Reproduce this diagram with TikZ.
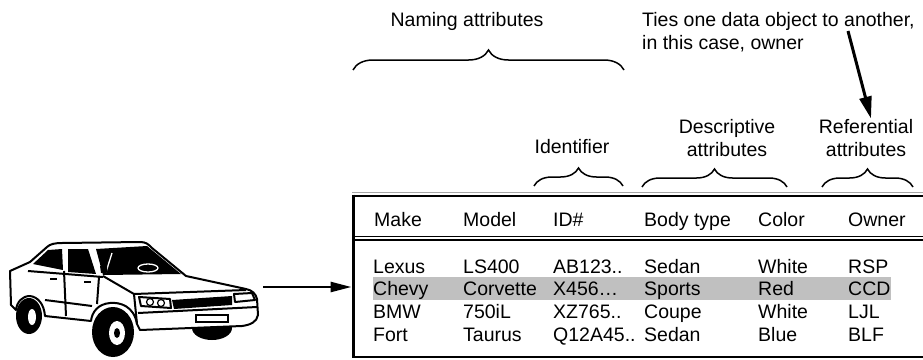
\documentclass[tikz,border=0pt]{standalone}
\usepackage{fontspec}
\setmainfont{Liberation Sans}
\usepackage{tikz}
\usetikzlibrary{arrows.meta,positioning,decorations.pathreplacing}
\definecolor{rowgray}{RGB}{192,192,192}

\begin{document}
\begin{tikzpicture}[
  x=1pt, y=-1pt,
  font=\fontsize{19.5}{23}\selectfont,
  cell/.style={anchor=base west, inner sep=0pt},
  lbl/.style={align=center, inner sep=0pt},
  brc/.style={decorate, decoration={brace, amplitude=#1}, line width=1.5pt},
  rule/.style={line width=2.6pt},
  arr/.style={-{Triangle[length=21pt, width=10pt]}, line width=2.6pt},
  tiearr/.style={-{Triangle[length=22pt, width=12pt]}, line width=3pt},
  car/.style={line width=2pt, line join=round},
  glass/.style={fill=black, line join=round}
]
\useasboundingbox (0,0) rectangle (923,359);

\fill (212,328) ellipse [x radius=20pt, y radius=12pt];
\fill (29,316) ellipse [x radius=13pt, y radius=18pt];
\fill (113,332) ellipse [x radius=21pt, y radius=25pt];
\draw[car, fill=white] (10,271) -- (30,262) -- (47,247) .. controls (50,244) and (55,243) .. (62,243)
  -- (140,242) .. controls (146,242) and (148,244) .. (152,248) -- (186,276) -- (246,289)
  .. controls (252,290) and (256,294) .. (257,299) -- (258,315)
  .. controls (257,322) and (250,325) .. (242,326) -- (140,330) -- (137,324)
  .. controls (134,306) and (120,302) .. (110,303) .. controls (98,304) and (92,312) .. (91,321)
  -- (45,316) .. controls (44,304) and (38,297) .. (30,296) .. controls (22,296) and (17,302) .. (16,310)
  -- (11,305) -- cycle;
\fill[white] (117,333) ellipse [x radius=8pt, y radius=12pt];
\fill (117,333) ellipse [x radius=3pt, y radius=5pt];
\fill[white] (32,317) ellipse [x radius=4pt, y radius=8pt];
\fill[glass] (33,264) -- (48,250) -- (62,249) -- (63,270) -- cycle;
\fill[glass] (68,249) -- (88,249) -- (96,274) -- (68,272) -- cycle;
\fill[glass] (96,249) -- (147,246) -- (181,274) -- (103,275) -- cycle;
\draw[white, line width=1.3pt] (112,253) -- (106,272) (148,268) ellipse [x radius=10pt, y radius=4pt];
\draw[car] (28,271) -- (103,277);
\draw[car] (64,271) -- (66,316);
\draw[car] (99,277) -- (97,304);
\draw[car] (45,300) -- (92,306);
\draw[car] (103,276) -- (134,294) -- (246,290);
\draw[car] (134,294) -- (137,324);
\draw[car, fill=white] (139,297) -- (170,299) -- (171,308) -- (141,306) -- cycle;
\draw[line width=1.2pt] (150,302) circle (3.5pt) (161,303) circle (3.5pt);
\fill (172,300) -- (232,296) -- (232,305) -- (174,309) -- cycle;
\draw[car, fill=white] (234,294) -- (252,293) -- (255,300) -- (235,302) -- cycle;
\draw[car] (138,313) -- (257,307);
\draw[line width=1.2pt, fill=white] (196,315) rectangle (228,322);
\fill (50,278) rectangle (57,280);
\fill (84,281) rectangle (91,283);
\fill (100,266) -- (107,265) -- (107,272) -- (101,273) -- cycle;

\fill[rowgray] (373,277) rectangle (891,300);
\draw[line width=0.6pt, black!35] (352,192.5) -- (923,192.5);
\draw[rule] (352,196) -- (923,196);
\draw[line width=0.8pt] (352,236) -- (923,236);
\draw[rule] (352,240) -- (923,240);
\draw[rule] (352,357) -- (923,357);
\draw[rule] (353.5,194.7) -- (353.5,358.3);

\node[cell] (make) at (374,226) {Make};
\node[cell] (model) at (463,226) {Model};
\node[cell] (idno) at (553,226) {ID\#};
\node[cell] (body) at (644,226) {Body type};
\node[cell] (color) at (758,226) {Color};
\node[cell] (owner) at (848,226) {Owner};

\node[cell] (lexus) at (373,273) {Lexus};
\node[cell] (ls400) at (463,273) {LS400};
\node[cell] (ab123) at (553,273) {AB123..};
\node[cell] (sedan1) at (644,273) {Sedan};
\node[cell] (white1) at (758,273) {White};
\node[cell] (rsp) at (848,273) {RSP};

\node[cell] (chevy) at (373,295.7) {Chevy};
\node[cell] (corvette) at (463,295.7) {Corvette};
\node[cell] (x456) at (553,295.7) {X456…};
\node[cell] (sports) at (644,295.7) {Sports};
\node[cell] (red) at (758,295.7) {Red};
\node[cell] (ccd) at (848,295.7) {CCD};

\node[cell] (bmw) at (373,318.4) {BMW};
\node[cell] (il750) at (463,318.4) {750iL};
\node[cell] (xz765) at (553,318.4) {XZ765..};
\node[cell] (coupe) at (644,318.4) {Coupe};
\node[cell] (white2) at (758,318.4) {White};
\node[cell] (ljl) at (848,318.4) {LJL};

\node[cell] (fort) at (373,341.1) {Fort};
\node[cell] (taurus) at (463,341.1) {Taurus};
\node[cell] (q12a45) at (553,341.1) {Q12A45..};
\node[cell] (sedan2) at (644,341.1) {Sedan};
\node[cell] (blue) at (758,341.1) {Blue};
\node[cell] (blf) at (848,341.1) {BLF};

\draw[brc=20pt] (353,70) -- (624,70);
\draw[brc=18pt] (534,186) -- (623,186);
\draw[brc=18pt] (642,187) -- (787,187);
\draw[brc=18pt] (822,187) -- (913,187);

\node[anchor=base, inner sep=0pt] (naming) at (467,26) {Naming attributes};
\node[anchor=base, inner sep=0pt] (ident) at (572,153) {Identifier};
\node[lbl] (descr) at (727,138.4) {Descriptive\\attributes};
\node[lbl] (refer) at (866,138.4) {Referential\\attributes};
\node[anchor=north west, align=left, inner sep=0pt] (ties) at (642,11.8) {Ties one data object to another,\\in this case, owner};

\coordinate (tiesfrom) at (848,31);
\draw[tiearr] (tiesfrom) -- ([xshift=5pt, yshift=1pt]refer.north);

\coordinate (carnose) at (263,287);
\coordinate (tblin) at (351.5,287);
\draw[arr] (carnose) -- (tblin);
\end{tikzpicture}
\end{document}
